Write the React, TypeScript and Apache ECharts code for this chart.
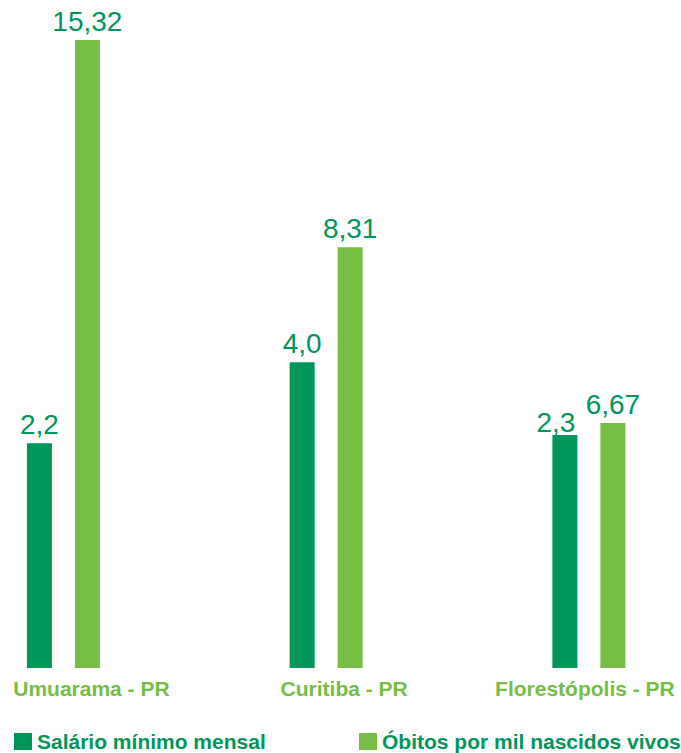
import React, { useEffect, useRef } from "react";
import * as echarts from "echarts";

// Categories
const cities = ["Umuarama - PR", "Curitiba - PR", "Florestópolis - PR"];
// Series names
const seriesNames = ["Salário mínimo mensal", "Óbitos por mil nascidos vivos"];
// Printed values
const salario = [2.2, 4.0, 2.3];
const obitos = [15.32, 8.31, 6.67];
// Bar heights as drawn in the picture (not to scale), % of the tallest bar
const salarioDrawn = [35.8, 48.7, 37.1];
const obitosDrawn = [100, 67.0, 39.0];

const DARK = "#00965A";
const LIGHT = "#76BE43";
const FONT = "Liberation Sans, Arial, sans-serif";

// per-category label shift (style only)
const labelShift = [28, 18, -4];

const fmt = (v: number, d: number) => v.toFixed(d).replace(".", ",");

export default function App() {
  const ref = useRef<HTMLDivElement>(null);
  useEffect(() => {
    if (!ref.current) return;
    const chart = echarts.init(ref.current, undefined, { renderer: "svg" });
    const valueLabel = {
      show: true,
      position: "top",
      distance: 5,
      color: DARK,
      fontSize: 28,
      fontFamily: FONT,
    };
    const legendBase = {
      top: 731,
      padding: 0,
      itemWidth: 18,
      itemHeight: 17,
      itemGap: 5,
      icon: "rect",
      textStyle: { color: DARK, fontSize: 21, fontWeight: "bold", fontFamily: FONT },
    };
    chart.setOption({
      animation: false,
      grid: { left: 63.4, width: 525.5, top: 40, bottom: 85, containLabel: false },
      legend: [
        { ...legendBase, left: 14, data: [seriesNames[0]] },
        { ...legendBase, left: 359, data: [seriesNames[1]] },
      ],
      xAxis: {
        type: "category",
        boundaryGap: false,
        data: cities.map((c, i) => ({
          value: c,
          textStyle: {
            padding: labelShift[i] >= 0 ? [0, 0, 0, 2 * labelShift[i]] : [0, -2 * labelShift[i], 0, 0],
          },
        })),
        axisLine: { show: false },
        axisTick: { show: false },
        splitLine: { show: false },
        axisLabel: {
          color: LIGHT,
          fontSize: 21,
          fontWeight: "bold",
          fontFamily: FONT,
          margin: 10,
          interval: 0,
        },
      },
      yAxis: { type: "value", min: 0, max: 100, show: false },
      series: [
        {
          name: seriesNames[0],
          type: "bar",
          clip: false,
          barWidth: 25,
          barGap: "92%",
          itemStyle: { color: DARK },
          label: { ...valueLabel, formatter: (p: any) => fmt(salario[p.dataIndex], 1) },
          data: salarioDrawn.map((v, i) => (i === 2 ? { value: v, label: { offset: [-9, 6] } } : v)),
        },
        {
          name: seriesNames[1],
          type: "bar",
          clip: false,
          barWidth: 25,
          itemStyle: { color: LIGHT },
          label: { ...valueLabel, formatter: (p: any) => fmt(obitos[p.dataIndex], 2) },
          data: obitosDrawn,
        },
      ],
    });
    return () => chart.dispose();
  }, []);
  return (
    <div
      ref={ref}
      style={{ position: "fixed", left: 0, top: 0, width: 681, height: 753, background: "#fff" }}
    />
  );
}
